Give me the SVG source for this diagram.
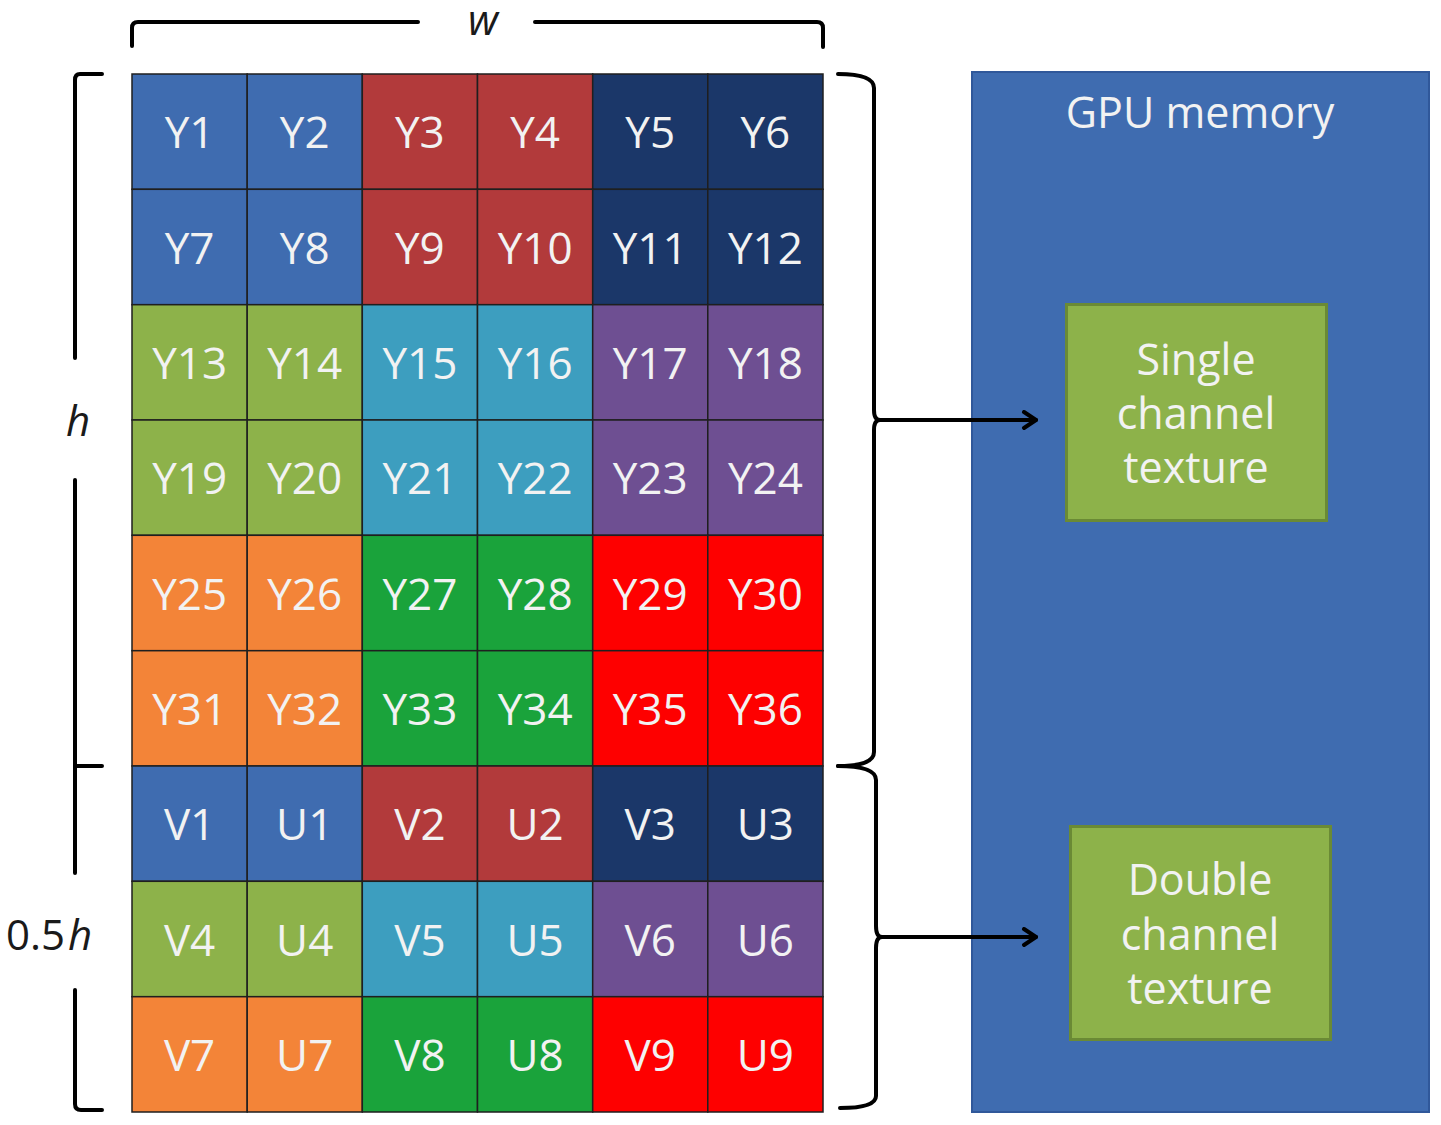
<svg xmlns="http://www.w3.org/2000/svg" width="1441" height="1125" viewBox="0 0 1441 1125">
<defs>
<style>
.c{stroke:#1f1f1f;stroke-width:1.5}
.t{font-family:"Open Sans","Noto Sans",sans-serif;font-size:44px;fill:#f2f2f2;text-anchor:middle}
.b{fill:#3f6cb0}.r{fill:#b23a3b}.n{fill:#1b3769}.o{fill:#8db24a}.q{fill:#3d9ebf}.p{fill:#6e4f92}.a{fill:#f38438}.g{fill:#1aa33b}.x{fill:#fe0000}
.br{fill:none;stroke:#000;stroke-width:4;stroke-linecap:round;stroke-linejoin:round}
.lbl{font-family:"Open Sans","Noto Sans",sans-serif;font-size:42px;fill:#1a1a1a}
.bt{font-family:"Open Sans","Noto Sans",sans-serif;font-size:43px;fill:#f2f2f2;text-anchor:middle}
</style>
<marker id="ah" viewBox="0 0 20 20" refX="16" refY="10" markerWidth="20" markerHeight="20" markerUnits="userSpaceOnUse" orient="auto">
<path d="M4,2 L16,10 L4,18" fill="none" stroke="#000" stroke-width="4" stroke-linecap="round" stroke-linejoin="round"/>
</marker>
</defs>
<rect width="1441" height="1125" fill="#fff"/>

<g id="gpu-memory">
<rect x="972" y="72" width="457" height="1040" fill="#3f6cb0" stroke="#30589a" stroke-width="2"/>
<text class="bt" x="1200" y="128" font-size="41">GPU memory</text>
</g>
<g id="single-channel-texture">
<rect x="1066.5" y="304.5" width="260" height="216" fill="#8db24a" stroke="#6a8a35" stroke-width="3"/>
<text class="bt" x="1196" y="375">Single</text>
<text class="bt" x="1196" y="429">channel</text>
<text class="bt" x="1196" y="483">texture</text>
</g>
<g id="double-channel-texture">
<rect x="1070.5" y="826.5" width="260" height="213" fill="#8db24a" stroke="#6a8a35" stroke-width="3"/>
<text class="bt" x="1200" y="895">Double</text>
<text class="bt" x="1200" y="950">channel</text>
<text class="bt" x="1200" y="1004">texture</text>
</g>

<g id="r1">
<g id="Y1"><rect class="c b" x="132" y="74" width="115.2" height="115.3"/><text class="t" x="189.6" y="148">Y1</text></g>
<g id="Y2"><rect class="c b" x="247.2" y="74" width="115.1" height="115.3"/><text class="t" x="304.7" y="148">Y2</text></g>
<g id="Y3"><rect class="c r" x="362.3" y="74" width="115.2" height="115.3"/><text class="t" x="419.9" y="148">Y3</text></g>
<g id="Y4"><rect class="c r" x="477.5" y="74" width="115.2" height="115.3"/><text class="t" x="535.1" y="148">Y4</text></g>
<g id="Y5"><rect class="c n" x="592.7" y="74" width="115.1" height="115.3"/><text class="t" x="650.2" y="148">Y5</text></g>
<g id="Y6"><rect class="c n" x="707.8" y="74" width="115.2" height="115.3"/><text class="t" x="765.4" y="148">Y6</text></g>
</g>
<g id="r2">
<g id="Y7"><rect class="c b" x="132" y="189.3" width="115.2" height="115.4"/><text class="t" x="189.6" y="264">Y7</text></g>
<g id="Y8"><rect class="c b" x="247.2" y="189.3" width="115.1" height="115.4"/><text class="t" x="304.7" y="264">Y8</text></g>
<g id="Y9"><rect class="c r" x="362.3" y="189.3" width="115.2" height="115.4"/><text class="t" x="419.9" y="264">Y9</text></g>
<g id="Y10"><rect class="c r" x="477.5" y="189.3" width="115.2" height="115.4"/><text class="t" x="535.1" y="264">Y10</text></g>
<g id="Y11"><rect class="c n" x="592.7" y="189.3" width="115.1" height="115.4"/><text class="t" x="650.2" y="264">Y11</text></g>
<g id="Y12"><rect class="c n" x="707.8" y="189.3" width="115.2" height="115.4"/><text class="t" x="765.4" y="264">Y12</text></g>
</g>
<g id="r3">
<g id="Y13"><rect class="c o" x="132" y="304.7" width="115.2" height="115.3"/><text class="t" x="189.6" y="379">Y13</text></g>
<g id="Y14"><rect class="c o" x="247.2" y="304.7" width="115.1" height="115.3"/><text class="t" x="304.7" y="379">Y14</text></g>
<g id="Y15"><rect class="c q" x="362.3" y="304.7" width="115.2" height="115.3"/><text class="t" x="419.9" y="379">Y15</text></g>
<g id="Y16"><rect class="c q" x="477.5" y="304.7" width="115.2" height="115.3"/><text class="t" x="535.1" y="379">Y16</text></g>
<g id="Y17"><rect class="c p" x="592.7" y="304.7" width="115.1" height="115.3"/><text class="t" x="650.2" y="379">Y17</text></g>
<g id="Y18"><rect class="c p" x="707.8" y="304.7" width="115.2" height="115.3"/><text class="t" x="765.4" y="379">Y18</text></g>
</g>
<g id="r4">
<g id="Y19"><rect class="c o" x="132" y="420" width="115.2" height="115.3"/><text class="t" x="189.6" y="494">Y19</text></g>
<g id="Y20"><rect class="c o" x="247.2" y="420" width="115.1" height="115.3"/><text class="t" x="304.7" y="494">Y20</text></g>
<g id="Y21"><rect class="c q" x="362.3" y="420" width="115.2" height="115.3"/><text class="t" x="419.9" y="494">Y21</text></g>
<g id="Y22"><rect class="c q" x="477.5" y="420" width="115.2" height="115.3"/><text class="t" x="535.1" y="494">Y22</text></g>
<g id="Y23"><rect class="c p" x="592.7" y="420" width="115.1" height="115.3"/><text class="t" x="650.2" y="494">Y23</text></g>
<g id="Y24"><rect class="c p" x="707.8" y="420" width="115.2" height="115.3"/><text class="t" x="765.4" y="494">Y24</text></g>
</g>
<g id="r5">
<g id="Y25"><rect class="c a" x="132" y="535.3" width="115.2" height="115.4"/><text class="t" x="189.6" y="610">Y25</text></g>
<g id="Y26"><rect class="c a" x="247.2" y="535.3" width="115.1" height="115.4"/><text class="t" x="304.7" y="610">Y26</text></g>
<g id="Y27"><rect class="c g" x="362.3" y="535.3" width="115.2" height="115.4"/><text class="t" x="419.9" y="610">Y27</text></g>
<g id="Y28"><rect class="c g" x="477.5" y="535.3" width="115.2" height="115.4"/><text class="t" x="535.1" y="610">Y28</text></g>
<g id="Y29"><rect class="c x" x="592.7" y="535.3" width="115.1" height="115.4"/><text class="t" x="650.2" y="610">Y29</text></g>
<g id="Y30"><rect class="c x" x="707.8" y="535.3" width="115.2" height="115.4"/><text class="t" x="765.4" y="610">Y30</text></g>
</g>
<g id="r6">
<g id="Y31"><rect class="c a" x="132" y="650.7" width="115.2" height="115.3"/><text class="t" x="189.6" y="725">Y31</text></g>
<g id="Y32"><rect class="c a" x="247.2" y="650.7" width="115.1" height="115.3"/><text class="t" x="304.7" y="725">Y32</text></g>
<g id="Y33"><rect class="c g" x="362.3" y="650.7" width="115.2" height="115.3"/><text class="t" x="419.9" y="725">Y33</text></g>
<g id="Y34"><rect class="c g" x="477.5" y="650.7" width="115.2" height="115.3"/><text class="t" x="535.1" y="725">Y34</text></g>
<g id="Y35"><rect class="c x" x="592.7" y="650.7" width="115.1" height="115.3"/><text class="t" x="650.2" y="725">Y35</text></g>
<g id="Y36"><rect class="c x" x="707.8" y="650.7" width="115.2" height="115.3"/><text class="t" x="765.4" y="725">Y36</text></g>
</g>
<g id="r7">
<g id="V1"><rect class="c b" x="132" y="766" width="115.2" height="115.3"/><text class="t" x="189.6" y="840">V1</text></g>
<g id="U1"><rect class="c b" x="247.2" y="766" width="115.1" height="115.3"/><text class="t" x="304.7" y="840">U1</text></g>
<g id="V2"><rect class="c r" x="362.3" y="766" width="115.2" height="115.3"/><text class="t" x="419.9" y="840">V2</text></g>
<g id="U2"><rect class="c r" x="477.5" y="766" width="115.2" height="115.3"/><text class="t" x="535.1" y="840">U2</text></g>
<g id="V3"><rect class="c n" x="592.7" y="766" width="115.1" height="115.3"/><text class="t" x="650.2" y="840">V3</text></g>
<g id="U3"><rect class="c n" x="707.8" y="766" width="115.2" height="115.3"/><text class="t" x="765.4" y="840">U3</text></g>
</g>
<g id="r8">
<g id="V4"><rect class="c o" x="132" y="881.3" width="115.2" height="115.4"/><text class="t" x="189.6" y="956">V4</text></g>
<g id="U4"><rect class="c o" x="247.2" y="881.3" width="115.1" height="115.4"/><text class="t" x="304.7" y="956">U4</text></g>
<g id="V5"><rect class="c q" x="362.3" y="881.3" width="115.2" height="115.4"/><text class="t" x="419.9" y="956">V5</text></g>
<g id="U5"><rect class="c q" x="477.5" y="881.3" width="115.2" height="115.4"/><text class="t" x="535.1" y="956">U5</text></g>
<g id="V6"><rect class="c p" x="592.7" y="881.3" width="115.1" height="115.4"/><text class="t" x="650.2" y="956">V6</text></g>
<g id="U6"><rect class="c p" x="707.8" y="881.3" width="115.2" height="115.4"/><text class="t" x="765.4" y="956">U6</text></g>
</g>
<g id="r9">
<g id="V7"><rect class="c a" x="132" y="996.7" width="115.2" height="115.3"/><text class="t" x="189.6" y="1071">V7</text></g>
<g id="U7"><rect class="c a" x="247.2" y="996.7" width="115.1" height="115.3"/><text class="t" x="304.7" y="1071">U7</text></g>
<g id="V8"><rect class="c g" x="362.3" y="996.7" width="115.2" height="115.3"/><text class="t" x="419.9" y="1071">V8</text></g>
<g id="U8"><rect class="c g" x="477.5" y="996.7" width="115.2" height="115.3"/><text class="t" x="535.1" y="1071">U8</text></g>
<g id="V9"><rect class="c x" x="592.7" y="996.7" width="115.1" height="115.3"/><text class="t" x="650.2" y="1071">V9</text></g>
<g id="U9"><rect class="c x" x="707.8" y="996.7" width="115.2" height="115.3"/><text class="t" x="765.4" y="1071">U9</text></g>
</g>

<g id="dimensions">
<path class="br" d="M132,46 L132,28 Q132,22 138,22 L418,22"/>
<path class="br" d="M535,22 L817,22 Q823,22 823,28 L823,47"/>
<text class="lbl" x="483" y="35" text-anchor="middle" font-style="italic" font-size="40">w</text>
<path class="br" d="M102,74 L80,74 Q75,74 75,80 L75,358"/>
<path class="br" d="M75,480 L75,873 M75,766 L102,766"/>
<path class="br" d="M75,990 L75,1104 Q75,1110 81,1110 L102,1110"/>
<text class="lbl" x="78" y="436" text-anchor="middle" font-style="italic">h</text>
<text class="lbl" x="6" y="950">0.5<tspan font-style="italic" dx="3">h</tspan></text>
</g>

<g id="connectors">
<path class="br" d="M838,74 Q874,74 874,88 L874,410 Q874,420 880,420 Q874,420 874,430 L874,752 Q874,766 838,766"/>
<path class="br" d="M838,766 Q876,766 876,780 L876,926 Q876,937 882,937 Q876,937 876,948 L876,1096 Q876,1108 840,1108"/>
<path class="br" d="M880,420 L1036,420" marker-end="url(#ah)"/>
<path class="br" d="M882,937 L1036,937" marker-end="url(#ah)"/>
</g>
</svg>
